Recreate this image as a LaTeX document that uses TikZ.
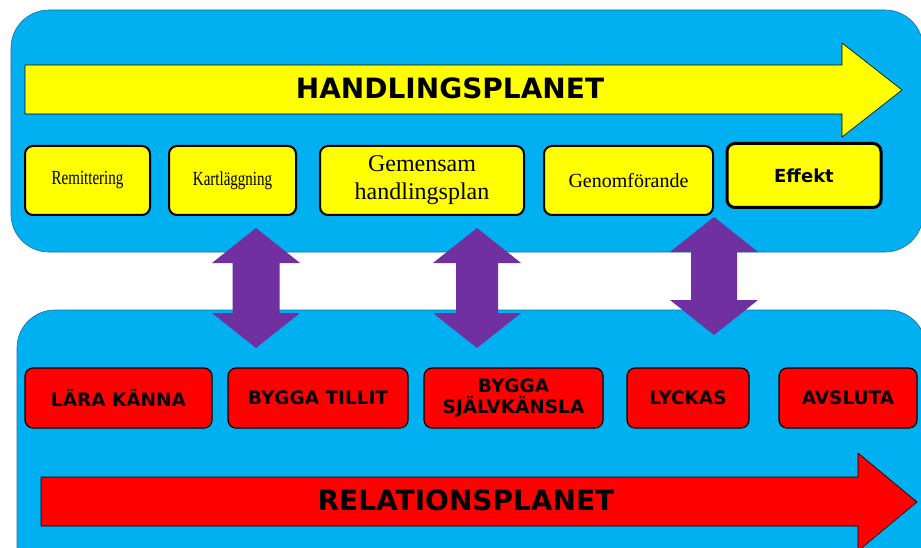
\documentclass[tikz,border=0pt]{standalone}
\usepackage{fontspec}
\setmainfont{Liberation Serif}
\newfontfamily\planfont{DejaVu Sans}
\newfontfamily\narrowfont[FakeStretch=0.75]{Liberation Serif}

\definecolor{planblue}{RGB}{0,176,240}
\definecolor{planedge}{RGB}{30,110,160}
\definecolor{planyellow}{RGB}{255,255,0}
\definecolor{planred}{RGB}{255,0,0}
\definecolor{planpurple}{RGB}{112,48,160}

\tikzset{
    panel/.style={draw=planedge, line width=0.6pt, fill=planblue, rounded corners=38pt},
    handbox/.style={rectangle,
        draw=black,
        line width=2pt,
        rounded corners=8pt,
        fill=planyellow,
        minimum height=69pt,
        align=center},
    relbox/.style={rectangle,
        draw=black,
        line width=1.2pt,
        rounded corners=8pt,
        fill=planred,
        minimum height=60pt,
        align=center,
        font=\planfont\bfseries\fontsize{18.5}{21}\selectfont},
    updown/.style={fill=planpurple},
}

\begin{document}
\begin{tikzpicture}[x=1pt, y=-1pt]
        \useasboundingbox (0,0) rectangle (921,548);

        % the two planes
        \fill[white] (0,0) rectangle (921,548);
        \draw[panel] (11,10) rectangle (923,252);
        \draw[panel] (17,310) rectangle (926,590);

        % big arrows
        \draw[fill=planyellow, line width=0.6pt] (25,65) -- (842,65) -- (842,43) -- (902,90)
            -- (842,137) -- (842,114) -- (25,114) -- cycle;
        \node[font=\planfont\bfseries\fontsize{28}{32}\selectfont] (hand) at (450,88) {HANDLINGSPLANET};

        \draw[fill=planred, line width=0.6pt] (41,477) -- (858,477) -- (858,453) -- (917,502)
            -- (858,551) -- (858,526) -- (41,526) -- cycle;
        \node[font=\planfont\bfseries\fontsize{28}{32}\selectfont] (rel) at (466,500) {RELATIONSPLANET};

        % double arrows between the planes
        \fill[updown] (256,228) -- (300,263) -- (279.5,263) -- (279.5,313) -- (300,313) -- (256,348)
            -- (212,313) -- (232.5,313) -- (232.5,263) -- (212,263) -- cycle;
        \fill[updown] (477,228) -- (521,263) -- (498,263) -- (498,313) -- (521,313) -- (477,348)
            -- (433,313) -- (456,313) -- (456,263) -- (433,263) -- cycle;
        \fill[updown] (714,217) -- (758,252) -- (737,252) -- (737,300) -- (758,300) -- (714,335)
            -- (670,300) -- (691,300) -- (691,252) -- (670,252) -- cycle;

        % handlingsplanet
        \node[handbox, minimum width=125pt, font=\narrowfont\fontsize{20}{22}\selectfont] (rem) at (87.5,180.5) {Remittering};
        \node[handbox, minimum width=127pt, font=\narrowfont\fontsize{20}{22}\selectfont] (kart) at (232.5,180.5) {Kartläggning};
        \node[handbox, minimum width=204pt, font=\fontsize{24}{28}\selectfont] (gem) at (422,180.5) {Gemensam\\handlingsplan};
        \node[handbox, minimum width=169pt, font=\fontsize{20}{22}\selectfont] (gen) at (628.5,180.5) {Genomförande};
        \node[handbox, minimum width=154pt, minimum height=64pt, line width=3pt,
            font=\planfont\bfseries\fontsize{18}{20}\selectfont] (eff) at (804,175.5) {Effekt};

        % relationsplanet
        \node[relbox, minimum width=187pt] (lara) at (118.5,398) {LÄRA KÄNNA};
        \node[relbox, minimum width=180pt] (tillit) at (318,398) {BYGGA TILLIT};
        \node[relbox, minimum width=179pt] (sjalv) at (513.5,398) {BYGGA\\SJÄLVKÄNSLA};
        \node[relbox, minimum width=122pt] (lyckas) at (688,398) {LYCKAS};
        \node[relbox, minimum width=138pt] (avsluta) at (848,398) {AVSLUTA};
    \end{tikzpicture}
\end{document}
